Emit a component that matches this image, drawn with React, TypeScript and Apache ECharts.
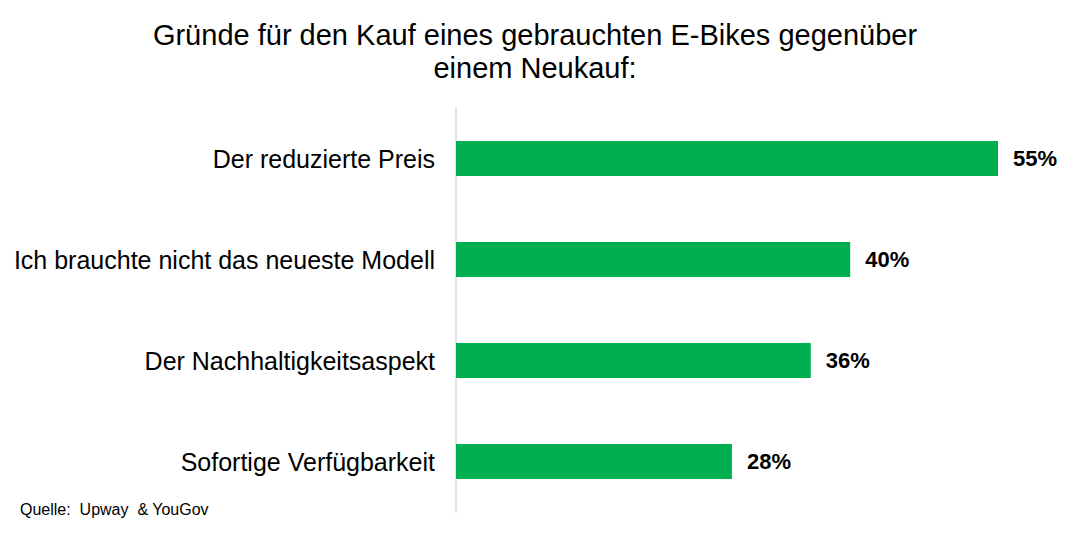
import { useRef, useEffect } from 'react';
import * as echarts from 'echarts';

const categories = [
    'Der reduzierte Preis',
    'Ich brauchte nicht das neueste Modell',
    'Der Nachhaltigkeitsaspekt',
    'Sofortige Verfügbarkeit'
];
const values = [55, 40, 36, 28];

const titleText = 'Gründe für den Kauf eines gebrauchten E-Bikes gegenüber\neinem Neukauf:';
const sourceText = 'Quelle:  Upway  & YouGov';

const App = () => {
    const chartRef = useRef<HTMLDivElement>(null);

    useEffect(() => {
        if (!chartRef.current) return;
        const chart = echarts.init(chartRef.current, null, { renderer: 'svg' });
        chart.setOption({
            animation: false,
            backgroundColor: '#fff',
            textStyle: { fontFamily: 'Liberation Sans, Arial, sans-serif' },
            title: {
                text: titleText,
                left: 'center',
                top: 13,
                textStyle: {
                    fontSize: 29,
                    fontWeight: 'normal',
                    color: '#000',
                    lineHeight: 33
                }
            },
            graphic: [
                {
                    type: 'text',
                    left: 20,
                    top: 501,
                    style: {
                        text: sourceText,
                        fontSize: 16,
                        fill: '#000',
                        fontFamily: 'Liberation Sans, Arial, sans-serif'
                    }
                }
            ],
            grid: {
                left: 456,
                right: 72,
                top: 108,
                bottom: 23,
                containLabel: false
            },
            xAxis: {
                type: 'value',
                min: 0,
                max: 55,
                show: false
            },
            yAxis: {
                type: 'category',
                data: categories,
                inverse: true,
                axisLine: { show: true, lineStyle: { color: '#d9d9d9', width: 1.5 } },
                axisTick: { show: false },
                axisLabel: {
                    color: '#000',
                    fontSize: 25,
                    margin: 21
                }
            },
            series: [
                {
                    type: 'bar',
                    data: values,
                    barWidth: 35,
                    itemStyle: { color: '#00b050' },
                    label: {
                        show: true,
                        position: 'right',
                        distance: 15,
                        formatter: '{c}%',
                        color: '#000',
                        fontSize: 22,
                        fontWeight: 'bold'
                    }
                }
            ]
        });
        return () => {
            chart.dispose();
        };
    }, []);

    return (
        <div ref={chartRef} style={{ position: 'fixed', left: 0, top: 0, width: 1070, height: 535 }} />
    );
};

export default App;
